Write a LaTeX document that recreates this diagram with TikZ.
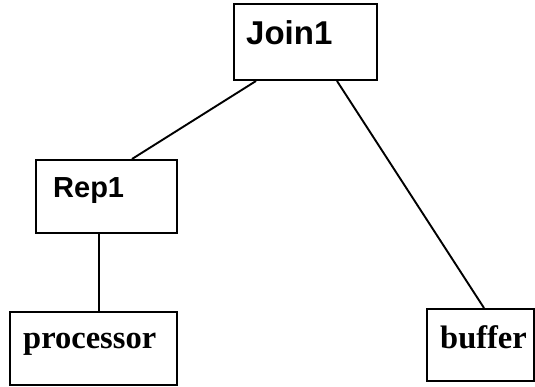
\documentclass[tikz,border=0pt]{standalone}
\usepackage{fontspec}
\newfontfamily\hsans{Liberation Sans}
\newfontfamily\tserif{Liberation Serif}
\tikzset{
  box/.style={draw=black, line width=2pt, rectangle, inner sep=0pt},
  lbl/.style={anchor=base west, inner sep=0pt},
  conn/.style={draw=black, line width=1.9pt}
}
\begin{document}
\begin{tikzpicture}[x=1pt,y=-1pt]
\useasboundingbox (0,0) rectangle (535,387);
\node[box, minimum width=143pt, minimum height=76pt] (join) at (305.5,42) {};
\node[box, minimum width=141pt, minimum height=73pt] (rep) at (106.5,196.5) {};
\node[box, minimum width=167pt, minimum height=73pt] (proc) at (93.5,348.5) {};
\node[box, minimum width=107pt, minimum height=72pt] (buf) at (480.5,345) {};
\node[lbl, font=\hsans\bfseries\fontsize{33}{36}\selectfont] (tjoin) at (246,45) {Join1};
\node[lbl, font=\hsans\bfseries\fontsize{29}{32}\selectfont] (trep) at (53,198) {Rep1};
\node[lbl, font=\tserif\bfseries\fontsize{32.5}{36}\selectfont] (tproc) at (23,348) {processor};
\node[lbl, font=\tserif\bfseries\fontsize{32.5}{36}\selectfont] (tbuf) at (440,348) {buffer};
\draw[conn] ([xshift=23pt]join.south west) -- ([xshift=97pt]rep.north west);
\draw[conn] ([xshift=104pt]join.south west) -- ([xshift=58pt]buf.north west);
\draw[conn] ([xshift=64pt]rep.south west) -- ([xshift=90pt]proc.north west);
\end{tikzpicture}
\end{document}
